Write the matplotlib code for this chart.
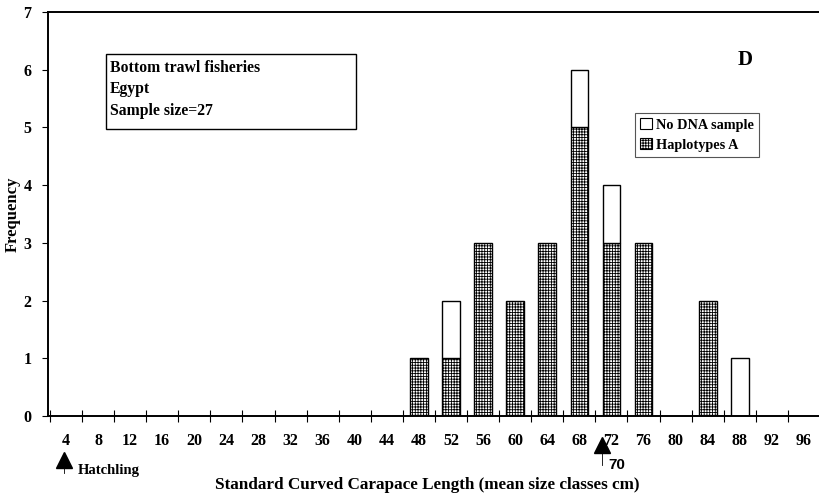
import matplotlib
matplotlib.use('Agg')
import matplotlib.pyplot as plt
from matplotlib.patches import Patch
import numpy as np

# size classes (cm) and counts
size_classes = [4, 8, 12, 16, 20, 24, 28, 32, 36, 40, 44, 48,
                52, 56, 60, 64, 68, 72, 76, 80, 84, 88, 92, 96]
haplotype_a = [0, 0, 0, 0, 0, 0, 0, 0, 0, 0, 0, 1,
               1, 3, 2, 3, 5, 3, 3, 0, 2, 0, 0, 0]
no_dna = [0, 0, 0, 0, 0, 0, 0, 0, 0, 0, 0, 0,
          1, 0, 0, 0, 1, 1, 0, 0, 0, 1, 0, 0]

serif = ['Liberation Serif', 'DejaVu Serif']
plt.rcParams['font.family'] = serif
plt.rcParams['font.weight'] = 'bold'
plt.rcParams['hatch.linewidth'] = 0.6
plt.rcParams['hatch.color'] = '#333333'

fig = plt.figure(figsize=(8.2, 4.95), dpi=100)
ax = fig.add_axes([48 / 820, 1 - 416 / 495, 1 - 48 / 820, (416 - 12) / 495])

x = np.arange(len(size_classes))
hap = np.array(haplotype_a)
nod = np.array(no_dna)
w = 0.55

ax.bar(x[hap > 0], hap[hap > 0], width=w, facecolor='white',
       edgecolor='black', linewidth=1.0, hatch='++++++')
ax.bar(x[nod > 0], nod[nod > 0], bottom=hap[nod > 0], width=w,
       facecolor='white', edgecolor='black', linewidth=1.0)

ax.set_xlim(-0.56, 23.31)
ax.set_ylim(0, 7)

# ticks: labels at class centres, tick marks between classes
ax.set_xticks(x)
ax.set_xticklabels([str(v) for v in size_classes], fontsize=11.5, fontweight='bold')
ax.set_xticks(np.arange(-0.5, len(size_classes), 1), minor=True)
ax.tick_params(axis='x', which='major', length=0, pad=12)
ax.tick_params(axis='x', which='minor', direction='inout', length=8, width=0.8)
ax.set_yticks(range(8))
ax.set_yticklabels([str(v) for v in range(8)], fontsize=11.5, fontweight='bold')
ax.tick_params(axis='y', direction='out', length=4, width=0.8, pad=8)

for s in ['left', 'bottom', 'top']:
    ax.spines[s].set_linewidth(1.4)
ax.spines['right'].set_visible(False)

ax.set_ylabel('Frequency', fontsize=12, fontweight='bold')
ax.yaxis.set_label_coords(-0.035, 0.5)
ax.set_xlabel('Standard Curved Carapace Length (mean size classes cm)',
              fontsize=12.3, fontweight='bold')
ax.xaxis.set_label_coords(0.491, -0.151)

# info box
ax.text(1.37, 6.17, 'Bottom trawl fisheries\nEgypt\nSample size=27',
        fontsize=11.3, fontweight='bold', va='top', ha='left', linespacing=1.45)
ax.add_patch(plt.Rectangle((1.24, 4.98), 7.8, 1.3, fill=False,
                           edgecolor='black', linewidth=1.0))

ax.text(0.903, 0.881, 'D', transform=ax.transAxes, fontsize=15,
        fontweight='bold', ha='center', va='center')

handles = [Patch(facecolor='white', edgecolor='black', linewidth=0.8),
           Patch(facecolor='white', edgecolor='black', linewidth=0.8, hatch='++++++')]
leg = ax.legend(handles, ['No DNA sample', 'Haplotypes A'],
                loc='upper left', bbox_to_anchor=(0.761, 0.749),
                prop={'family': serif, 'weight': 'bold', 'size': 10.3},
                fancybox=False, framealpha=1, edgecolor='#555555',
                handlelength=0.8, handleheight=0.8, handletextpad=0.3,
                borderpad=0.35, labelspacing=0.45, borderaxespad=0)
leg.get_frame().set_linewidth(0.8)

# arrows under the axis
ax.plot([-0.07], [-0.76], marker='^', color='black', markersize=12,
        clip_on=False)
ax.plot([-0.07, -0.07], [-0.76, -0.99], color='black', lw=0.6, clip_on=False)
ax.text(0.38, -0.95, 'Hatchling', fontsize=10.5, fontweight='bold',
        ha='left', va='center')
idx70 = 16.7
ax.plot([idx70], [-0.5], marker='^', color='black', markersize=12,
        clip_on=False)
ax.plot([idx70, idx70], [-0.5, -0.85], color='black', lw=0.6, clip_on=False)
ax.text(idx70 + 0.2, -0.85, '70', fontsize=11, fontweight='bold',
        family=['Liberation Sans', 'DejaVu Sans'], ha='left', va='center')

fig.savefig('out.png', dpi=100)
